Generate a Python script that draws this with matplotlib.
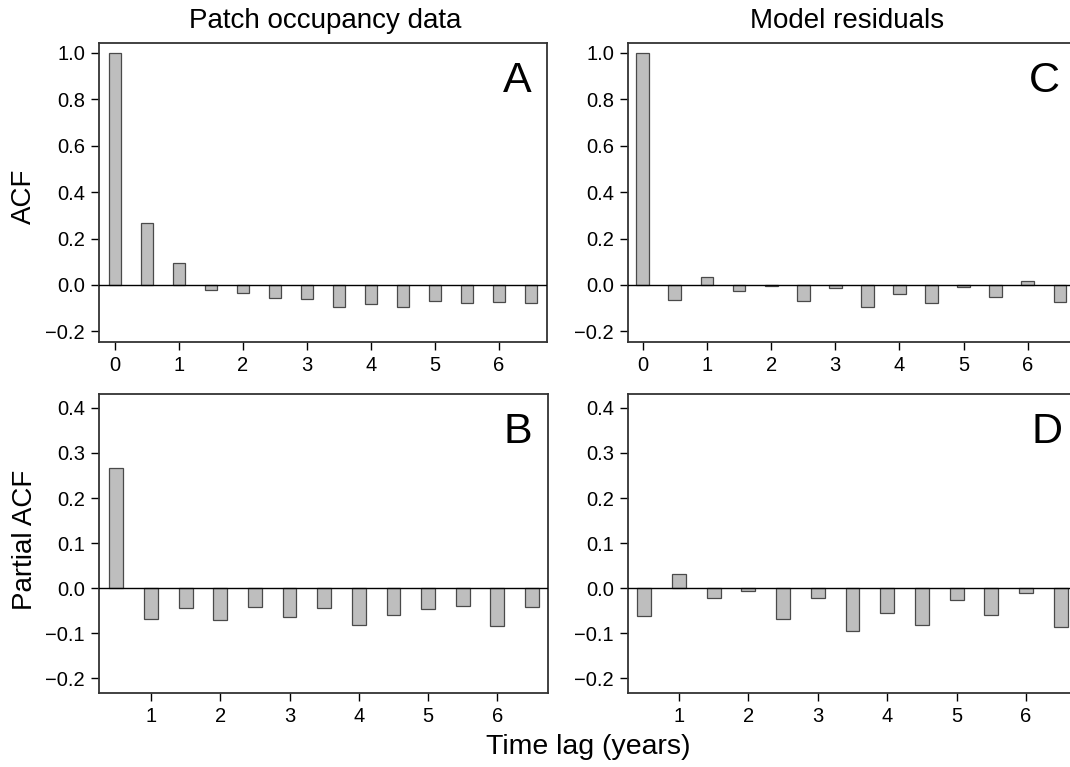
import matplotlib
matplotlib.use("Agg")
import matplotlib.pyplot as plt
import numpy as np

plt.rcParams['font.family'] = ['Liberation Sans', 'DejaVu Sans']

acf_lags = [0, 0.5, 1, 1.5, 2, 2.5, 3, 3.5, 4, 4.5, 5, 5.5, 6, 6.5]
pacf_lags = [0.5, 1, 1.5, 2, 2.5, 3, 3.5, 4, 4.5, 5, 5.5, 6, 6.5]

acf_data = [1.0, 0.268, 0.093, -0.020, -0.036, -0.057, -0.060, -0.093,
            -0.082, -0.096, -0.070, -0.079, -0.072, -0.079]
acf_resid = [1.0, -0.063, 0.034, -0.027, -0.004, -0.069, -0.013, -0.097,
             -0.040, -0.077, -0.009, -0.052, 0.016, -0.072]
pacf_data = [0.267, -0.069, -0.044, -0.071, -0.041, -0.064, -0.044, -0.083,
             -0.060, -0.046, -0.040, -0.084, -0.043]
pacf_resid = [-0.063, 0.031, -0.023, -0.007, -0.068, -0.021, -0.096, -0.056,
              -0.081, -0.027, -0.060, -0.012, -0.086]

col_titles = ["Patch occupancy data", "Model residuals"]

W, H = 1070, 767
fig = plt.figure(figsize=(W / 100, H / 100), dpi=100)

def px_axes(l, t, r, b):
    return fig.add_axes([l / W, 1 - b / H, (r - l) / W, (b - t) / H])

axA = px_axes(99, 43, 547, 342)
axC = px_axes(628, 43, 1076, 342)
axB = px_axes(99, 394, 548, 693)
axD = px_axes(628, 394, 1078, 693)

bar_face = "#bebebe"
bar_edge = "#4a4a4a"
spine_col = "#333333"

def style(ax, x, y, xlim, ylim, yticks, xticks, letter):
    ax.bar(x, y, width=0.2, color=bar_face, edgecolor=bar_edge, linewidth=0.9, zorder=2)
    ax.axhline(0, color="black", linewidth=1.0, zorder=3)
    ax.set_xlim(*xlim)
    ax.set_ylim(*ylim)
    ax.set_yticks(yticks)
    ax.set_yticklabels([f"{v:.1f}".replace("-", "\u2212") for v in yticks])
    ax.set_xticks(xticks)
    ax.set_xticklabels([str(v) for v in xticks])
    ax.tick_params(direction="out", length=6, width=1.0, labelsize=14.5,
                   colors="black", pad=4)
    for s in ax.spines.values():
        s.set_color(spine_col)
        s.set_linewidth(1.3)
    ax.text(0.965, 0.94, letter, transform=ax.transAxes, ha="right", va="top",
            fontsize=31)

acf_yt = [-0.2, 0.0, 0.2, 0.4, 0.6, 0.8, 1.0]
pacf_yt = [-0.2, -0.1, 0.0, 0.1, 0.2, 0.3, 0.4]

style(axA, acf_lags, acf_data, (-0.25, 6.75), (-0.246, 1.043), acf_yt, list(range(0, 7)), "A")
style(axC, acf_lags, acf_resid, (-0.23, 6.75), (-0.246, 1.043), acf_yt, list(range(0, 7)), "C")
style(axB, pacf_lags, pacf_data, (0.25, 6.73), (-0.233, 0.431), pacf_yt, list(range(1, 7)), "B")
style(axD, pacf_lags, pacf_resid, (0.265, 6.75), (-0.233, 0.431), pacf_yt, list(range(1, 7)), "D")

fig.text(325 / W, 1 - 21 / H, col_titles[0], ha="center", va="center", fontsize=20)
fig.text(847 / W, 1 - 21 / H, col_titles[1], ha="center", va="center", fontsize=20)
fig.text(24 / W, 1 - 196 / H, "ACF", ha="center", va="center", rotation=90, fontsize=20)
fig.text(25 / W, 1 - 540 / H, "Partial ACF", ha="center", va="center", rotation=90, fontsize=20)
fig.text(588 / W, 1 - 747 / H, "Time lag (years)", ha="center", va="center", fontsize=20.5)

fig.savefig("out.png", dpi=100)
